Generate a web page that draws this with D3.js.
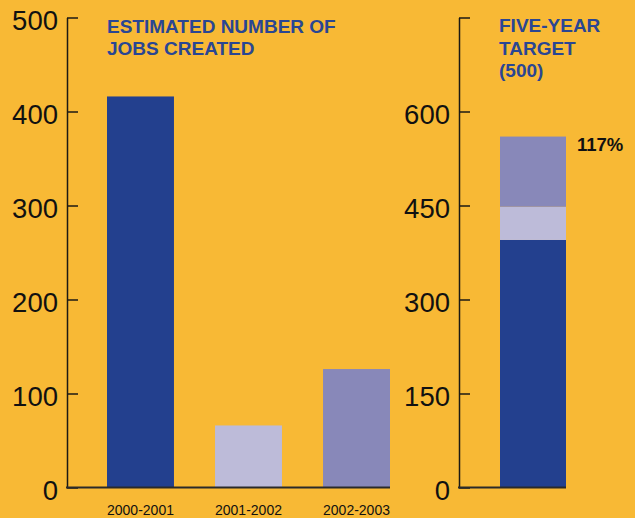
<!DOCTYPE html>
<html><head><meta charset="utf-8">
<script src="https://cdn.jsdelivr.net/npm/d3@7"></script>
<style>
html,body{margin:0;padding:0;background:#F8B935;}
svg{display:block;font-family:"Liberation Sans",Arial,Helvetica,sans-serif;}
</style></head><body>
<svg id="c" width="635" height="518"></svg>
<script>
// ---- data ----
const categories = ["2000-2001", "2001-2002", "2002-2003"];
const jobs = [416, 66, 126];
const leftTicks = [0, 100, 200, 300, 400, 500];
const stackValues = [395, 53, 112];          // cumulative: 395, 448, 560
const rightTicks = [0, 150, 300, 450, 600, 750];
const rightTickLabels = ["0", "150", "300", "450", "600", ""];
const barColors = ["#23408E", "#BDBBD9", "#8888B9"];
const leftTitle = ["ESTIMATED NUMBER OF", "JOBS CREATED"];
const rightTitle = ["FIVE-YEAR", "TARGET", "(500)"];
const pctLabel = "117%";

const svg = d3.select("#c");
svg.append("rect").attr("width",635).attr("height",518).attr("fill","#F8B935");

const y0 = 487.5, yTop = 17.5;
const titleColor = "#2A4693";
const axisColor = "#1c1a14";

// ---- left chart ----
const yL = d3.scaleLinear().domain([0, 500]).range([y0, yTop]);
const xL = d3.scaleBand().domain(categories).range([107, 390]).paddingInner(0.38).paddingOuter(0);
const gL = svg.append("g");
gL.selectAll("rect.bar").data(jobs).join("rect")
  .attr("x", (d,i)=>xL(categories[i]))
  .attr("width", xL.bandwidth())
  .attr("y", d=>yL(d))
  .attr("height", d=>yL(0)-yL(d))
  .attr("fill", (d,i)=>barColors[i]);

const axL = gL.append("g").attr("transform","translate(67,0)")
  .call(d3.axisLeft(yL).tickValues(leftTicks).tickSizeInner(-11).tickSizeOuter(0).tickPadding(9));
axL.select(".domain").attr("stroke",axisColor).attr("stroke-width",1.5);
axL.selectAll(".tick line").attr("stroke",axisColor).attr("stroke-width",1.5);
axL.selectAll(".tick text").attr("font-size",27.5).attr("fill","#111").attr("dy","0.42em")
  .attr("font-family","'Liberation Sans',Arial,sans-serif");
gL.append("line").attr("x1",66).attr("x2",390).attr("y1",yL(0)).attr("y2",yL(0))
  .attr("stroke","#2a2a2a").attr("stroke-width",2.2);
gL.selectAll("text.cat").data(categories).join("text").attr("class","cat")
  .attr("x", d=>xL(d)+xL.bandwidth()/2).attr("y",514.5)
  .attr("text-anchor","middle").attr("font-size",14).attr("fill","#111").text(d=>d);
gL.selectAll("text.title").data(leftTitle).join("text").attr("class","title")
  .attr("x",107).attr("y",(d,i)=>33+i*22).attr("font-size",19).attr("font-weight","bold")
  .attr("fill",titleColor).text(d=>d);

// ---- right chart ----
const yR = d3.scaleLinear().domain([0, 750]).range([y0, yTop]);
const xR = d3.scaleBand().domain(["total"]).range([500, 566]).padding(0);
const gR = svg.append("g");
let cum = 0;
const segs = stackValues.map((v,i)=>{const s={a:cum,b:cum+v,c:barColors[i]};cum+=v;return s;});
gR.selectAll("rect.seg").data(segs).join("rect")
  .attr("x", xR("total")).attr("width", xR.bandwidth())
  .attr("y", d=>yR(d.b)).attr("height", d=>yR(d.a)-yR(d.b))
  .attr("fill", d=>d.c);
const axR = gR.append("g").attr("transform","translate(459,0)")
  .call(d3.axisLeft(yR).tickValues(rightTicks).tickFormat((d,i)=>rightTickLabels[i])
    .tickSizeInner(-11).tickSizeOuter(0).tickPadding(9));
axR.select(".domain").attr("stroke",axisColor).attr("stroke-width",1.5);
axR.selectAll(".tick line").attr("stroke",axisColor).attr("stroke-width",1.5);
axR.selectAll(".tick text").attr("font-size",27.5).attr("fill","#111").attr("dy","0.42em")
  .attr("font-family","'Liberation Sans',Arial,sans-serif");
gR.append("line").attr("x1",458).attr("x2",566).attr("y1",yR(0)).attr("y2",yR(0))
  .attr("stroke","#2a2a2a").attr("stroke-width",2.2);
gR.selectAll("text.title").data(rightTitle).join("text").attr("class","title")
  .attr("x",499).attr("y",(d,i)=>32+i*22.5).attr("font-size",19).attr("font-weight","bold")
  .attr("fill",titleColor).text(d=>d);
gR.append("text").attr("x",577).attr("y",yR(cum)+14.5).attr("font-size",18.5)
  .attr("font-weight","bold").attr("fill","#111").text(pctLabel);
</script>
</body></html>
